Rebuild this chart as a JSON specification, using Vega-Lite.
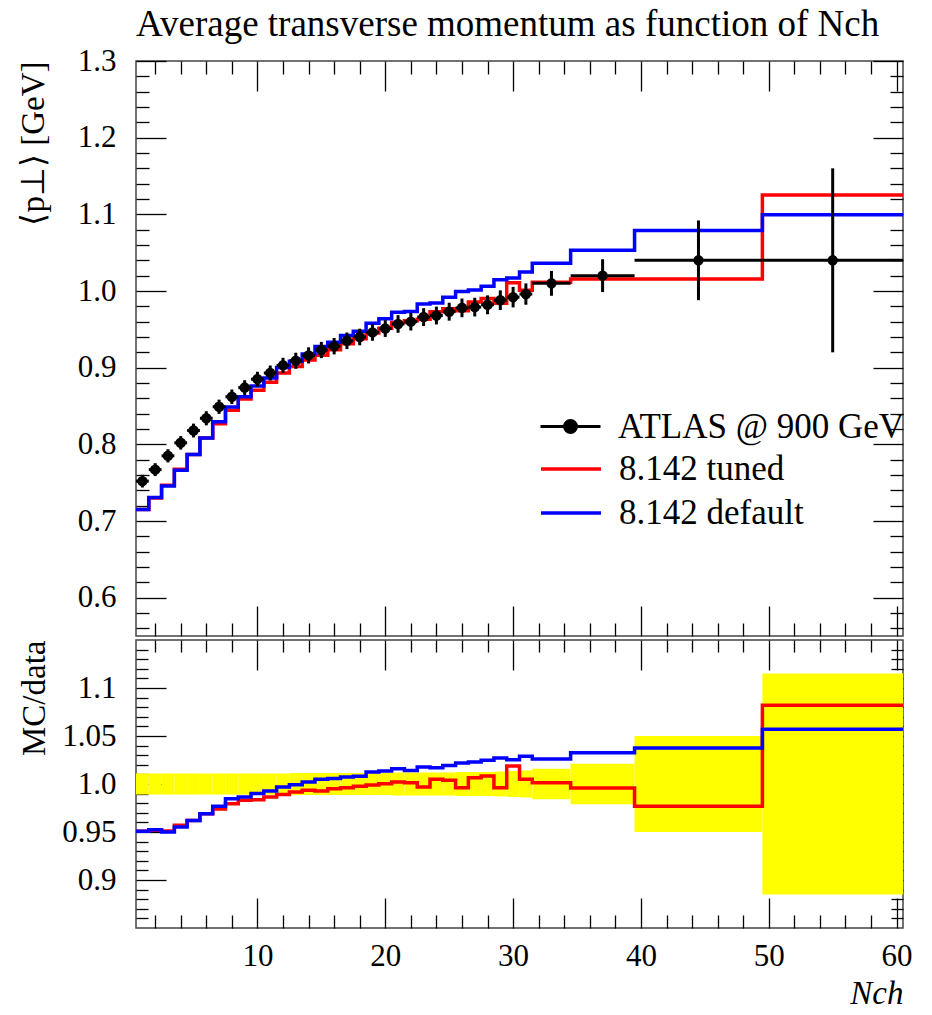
{
  "$schema": "https://vega.github.io/schema/vega-lite/v6.json",
  "padding": {"left": 16, "top": 5, "right": 5, "bottom": 5},
  "background": "white",
  "spacing": 0,
  "config": {
    "font": "Liberation Serif",
    "view": {"stroke": "#444", "strokeWidth": 1.5},
    "axis": {"domain": false, "grid": false, "tickColor": "black", "tickWidth": 1.3, "labelFont": "Liberation Serif", "labelFontSize": 31, "labelColor": "black", "titleFont": "Liberation Serif", "titleFontSize": 33, "titleFontWeight": "normal", "titleColor": "black"},
    "legend": {"labelFont": "Liberation Serif", "labelFontSize": 35, "labelColor": "black", "padding": 0, "labelLimit": 0, "titlePadding": 0}
  },
  "datasets": {
    "mc": [
      {"x": 0.5, "tuned": 0.7149, "def": 0.7149, "rt": 0.9507, "rd": 0.9507},
      {"x": 1.5, "tuned": 0.7300, "def": 0.7305, "rt": 0.9517, "rd": 0.9524},
      {"x": 2.5, "tuned": 0.7465, "def": 0.7458, "rt": 0.951, "rd": 0.950},
      {"x": 3.5, "tuned": 0.7675, "def": 0.7661, "rt": 0.957, "rd": 0.9552},
      {"x": 4.5, "tuned": 0.7869, "def": 0.7869, "rt": 0.962, "rd": 0.962},
      {"x": 5.5, "tuned": 0.8081, "def": 0.8081, "rt": 0.969, "rd": 0.969},
      {"x": 6.5, "tuned": 0.8269, "def": 0.8293, "rt": 0.974, "rd": 0.9768},
      {"x": 7.5, "tuned": 0.8443, "def": 0.8488, "rt": 0.9795, "rd": 0.9847},
      {"x": 8.5, "tuned": 0.8591, "def": 0.8622, "rt": 0.983, "rd": 0.9865},
      {"x": 9.5, "tuned": 0.8706, "def": 0.8762, "rt": 0.9837, "rd": 0.990},
      {"x": 10.5, "tuned": 0.8809, "def": 0.8865, "rt": 0.9865, "rd": 0.9927},
      {"x": 11.5, "tuned": 0.8931, "def": 0.9002, "rt": 0.989, "rd": 0.9969},
      {"x": 12.5, "tuned": 0.9015, "def": 0.9084, "rt": 0.9917, "rd": 0.9993},
      {"x": 13.5, "tuned": 0.9100, "def": 0.9178, "rt": 0.9934, "rd": 1.002},
      {"x": 14.5, "tuned": 0.9163, "def": 0.9276, "rt": 0.9927, "rd": 1.005},
      {"x": 15.5, "tuned": 0.9234, "def": 0.9332, "rt": 0.995, "rd": 1.0056},
      {"x": 16.5, "tuned": 0.9313, "def": 0.9418, "rt": 0.996, "rd": 1.0073},
      {"x": 17.5, "tuned": 0.9377, "def": 0.9475, "rt": 0.9976, "rd": 1.008},
      {"x": 18.5, "tuned": 0.9451, "def": 0.9578, "rt": 0.999, "rd": 1.0125},
      {"x": 19.5, "tuned": 0.9513, "def": 0.9638, "rt": 1.0003, "rd": 1.0135},
      {"x": 20.5, "tuned": 0.9589, "def": 0.9723, "rt": 1.002, "rd": 1.016},
      {"x": 21.5, "tuned": 0.9613, "def": 0.9734, "rt": 1.0014, "rd": 1.014},
      {"x": 22.5, "tuned": 0.9630, "def": 0.9831, "rt": 0.9969, "rd": 1.0177},
      {"x": 23.5, "tuned": 0.9728, "def": 0.9845, "rt": 1.005, "rd": 1.017},
      {"x": 24.5, "tuned": 0.9767, "def": 0.9919, "rt": 1.0038, "rd": 1.0194},
      {"x": 25.5, "tuned": 0.9741, "def": 0.9995, "rt": 0.996, "rd": 1.022},
      {"x": 26.5, "tuned": 0.9855, "def": 1.0014, "rt": 1.0066, "rd": 1.0229},
      {"x": 27.5, "tuned": 0.9902, "def": 1.0063, "rt": 1.0083, "rd": 1.0247},
      {"x": 28.5, "tuned": 0.9840, "def": 1.0147, "rt": 0.996, "rd": 1.027},
      {"x": 29.5, "tuned": 1.0106, "def": 1.0171, "rt": 1.0188, "rd": 1.0253},
      {"x": 30.5, "tuned": 1.0010, "def": 1.0247, "rt": 1.005, "rd": 1.0288},
      {"x": 31.5, "tuned": 1.0114, "def": 1.0363, "rt": 1.0014, "rd": 1.026},
      {"x": 34.5, "tuned": 1.0157, "def": 1.0533, "rt": 0.9958, "rd": 1.0326},
      {"x": 39.5, "tuned": 1.0158, "def": 1.0790, "rt": 0.9767, "rd": 1.0375},
      {"x": 49.5, "tuned": 1.1253, "def": 1.0993, "rt": 1.082, "rd": 1.057},
      {"x": 60.5, "tuned": 1.1253, "def": 1.0993, "rt": 1.082, "rd": 1.057}
    ],
    "atlas": [
      {"n": 1, "lo": 0.5, "hi": 1.5, "val": 0.752, "ylo": 0.7437, "yhi": 0.7603, "rlo": 0.989, "rhi": 1.011},
      {"n": 2, "lo": 1.5, "hi": 2.5, "val": 0.767, "ylo": 0.7586, "yhi": 0.7754, "rlo": 0.989, "rhi": 1.011},
      {"n": 3, "lo": 2.5, "hi": 3.5, "val": 0.785, "ylo": 0.7764, "yhi": 0.7936, "rlo": 0.989, "rhi": 1.011},
      {"n": 4, "lo": 3.5, "hi": 4.5, "val": 0.802, "ylo": 0.7932, "yhi": 0.8108, "rlo": 0.989, "rhi": 1.011},
      {"n": 5, "lo": 4.5, "hi": 5.5, "val": 0.818, "ylo": 0.8090, "yhi": 0.8270, "rlo": 0.989, "rhi": 1.011},
      {"n": 6, "lo": 5.5, "hi": 6.5, "val": 0.834, "ylo": 0.8248, "yhi": 0.8432, "rlo": 0.989, "rhi": 1.011},
      {"n": 7, "lo": 6.5, "hi": 7.5, "val": 0.849, "ylo": 0.8397, "yhi": 0.8583, "rlo": 0.989, "rhi": 1.011},
      {"n": 8, "lo": 7.5, "hi": 8.5, "val": 0.862, "ylo": 0.8525, "yhi": 0.8715, "rlo": 0.989, "rhi": 1.011},
      {"n": 9, "lo": 8.5, "hi": 9.5, "val": 0.874, "ylo": 0.8644, "yhi": 0.8836, "rlo": 0.989, "rhi": 1.011},
      {"n": 10, "lo": 9.5, "hi": 10.5, "val": 0.885, "ylo": 0.8753, "yhi": 0.8947, "rlo": 0.989, "rhi": 1.011},
      {"n": 11, "lo": 10.5, "hi": 11.5, "val": 0.893, "ylo": 0.8832, "yhi": 0.9028, "rlo": 0.989, "rhi": 1.011},
      {"n": 12, "lo": 11.5, "hi": 12.5, "val": 0.903, "ylo": 0.8931, "yhi": 0.9129, "rlo": 0.989, "rhi": 1.011},
      {"n": 13, "lo": 12.5, "hi": 13.5, "val": 0.909, "ylo": 0.8985, "yhi": 0.9195, "rlo": 0.9885, "rhi": 1.0115},
      {"n": 14, "lo": 13.5, "hi": 14.5, "val": 0.916, "ylo": 0.9055, "yhi": 0.9265, "rlo": 0.9885, "rhi": 1.0115},
      {"n": 15, "lo": 14.5, "hi": 15.5, "val": 0.923, "ylo": 0.9124, "yhi": 0.9336, "rlo": 0.9885, "rhi": 1.0115},
      {"n": 16, "lo": 15.5, "hi": 16.5, "val": 0.928, "ylo": 0.9173, "yhi": 0.9387, "rlo": 0.9885, "rhi": 1.0115},
      {"n": 17, "lo": 16.5, "hi": 17.5, "val": 0.935, "ylo": 0.9242, "yhi": 0.9458, "rlo": 0.9885, "rhi": 1.0115},
      {"n": 18, "lo": 17.5, "hi": 18.5, "val": 0.940, "ylo": 0.9292, "yhi": 0.9508, "rlo": 0.9885, "rhi": 1.0115},
      {"n": 19, "lo": 18.5, "hi": 19.5, "val": 0.946, "ylo": 0.9351, "yhi": 0.9569, "rlo": 0.9885, "rhi": 1.0115},
      {"n": 20, "lo": 19.5, "hi": 20.5, "val": 0.951, "ylo": 0.9401, "yhi": 0.9619, "rlo": 0.9885, "rhi": 1.0115},
      {"n": 21, "lo": 20.5, "hi": 21.5, "val": 0.957, "ylo": 0.9455, "yhi": 0.9685, "rlo": 0.988, "rhi": 1.012},
      {"n": 22, "lo": 21.5, "hi": 22.5, "val": 0.960, "ylo": 0.9485, "yhi": 0.9715, "rlo": 0.988, "rhi": 1.012},
      {"n": 23, "lo": 22.5, "hi": 23.5, "val": 0.966, "ylo": 0.9544, "yhi": 0.9776, "rlo": 0.988, "rhi": 1.012},
      {"n": 24, "lo": 23.5, "hi": 24.5, "val": 0.968, "ylo": 0.9564, "yhi": 0.9796, "rlo": 0.988, "rhi": 1.012},
      {"n": 25, "lo": 24.5, "hi": 25.5, "val": 0.973, "ylo": 0.9613, "yhi": 0.9847, "rlo": 0.988, "rhi": 1.012},
      {"n": 26, "lo": 25.5, "hi": 26.5, "val": 0.978, "ylo": 0.9658, "yhi": 0.9902, "rlo": 0.9875, "rhi": 1.0125},
      {"n": 27, "lo": 26.5, "hi": 27.5, "val": 0.979, "ylo": 0.9668, "yhi": 0.9912, "rlo": 0.9875, "rhi": 1.0125},
      {"n": 28, "lo": 27.5, "hi": 28.5, "val": 0.982, "ylo": 0.9697, "yhi": 0.9943, "rlo": 0.9875, "rhi": 1.0125},
      {"n": 29, "lo": 28.5, "hi": 29.5, "val": 0.988, "ylo": 0.9752, "yhi": 1.0008, "rlo": 0.987, "rhi": 1.013},
      {"n": 30, "lo": 29.5, "hi": 30.5, "val": 0.992, "ylo": 0.9786, "yhi": 1.0054, "rlo": 0.9865, "rhi": 1.0135},
      {"n": 31, "lo": 30.5, "hi": 31.5, "val": 0.996, "ylo": 0.9821, "yhi": 1.0099, "rlo": 0.986, "rhi": 1.014},
      {"n": 33, "lo": 31.5, "hi": 34.5, "val": 1.010, "ylo": 0.9938, "yhi": 1.0262, "rlo": 0.984, "rhi": 1.016},
      {"n": 37, "lo": 34.5, "hi": 39.5, "val": 1.020, "ylo": 0.9986, "yhi": 1.0414, "rlo": 0.979, "rhi": 1.021},
      {"n": 44.5, "lo": 39.5, "hi": 49.5, "val": 1.040, "ylo": 0.988, "yhi": 1.092, "rlo": 0.95, "rhi": 1.05},
      {"n": 55, "lo": 49.5, "hi": 60.5, "val": 1.040, "ylo": 0.920, "yhi": 1.160, "rlo": 0.885, "rhi": 1.115}
    ]
  },
  "resolve": {"scale": {"x": "independent", "stroke": "independent", "color": "independent", "fill": "independent"}},
  "vconcat": [
    {
      "width": 767,
      "height": 575,
      "title": {"text": "Average transverse momentum as function of Nch", "anchor": "start", "frame": "group", "font": "Liberation Serif", "fontSize": 37, "fontWeight": "normal", "color": "black", "offset": 1},
      "resolve": {"axis": {"x": "independent", "y": "independent"}},
      "layer": [
        {
          "data": {"name": "mc"},
          "mark": {"type": "line", "interpolate": "step-after", "strokeWidth": 3.5},
          "encoding": {
            "x": {"field": "x", "type": "quantitative", "scale": {"domain": [0.5, 60.5], "nice": false, "zero": false},
              "axis": {"orient": "bottom", "values": [2,4,6,8,10,12,14,16,18,20,22,24,26,28,30,32,34,36,38,40,42,44,46,48,50,52,54,56,58,60], "tickSize": {"condition": {"test": "datum.value % 10 === 0", "value": -30}, "value": -13}, "labels": false, "title": null}},
            "y": {"field": "tuned", "type": "quantitative", "scale": {"domain": [0.55, 1.3], "nice": false, "zero": false},
              "axis": {"orient": "left", "values": [0.56,0.58,0.6,0.62,0.64,0.66,0.68,0.7,0.72,0.74,0.76,0.78,0.8,0.82,0.84,0.86,0.88,0.9,0.92,0.94,0.96,0.98,1.0,1.02,1.04,1.06,1.08,1.1,1.12,1.14,1.16,1.18,1.2,1.22,1.24,1.26,1.28,1.3],
                "tickSize": {"condition": {"test": "abs(datum.value*10 - round(datum.value*10)) < 0.001", "value": -30}, "value": -13},
                "labelExpr": "abs(datum.value*10 - round(datum.value*10)) < 0.001 ? format(datum.value, '.1f') : ''",
                "labelPadding": 50, "title": "⟨p⊥⟩ [GeV]", "titleAnchor": "end", "titlePadding": 27}},
            "stroke": {"datum": "8.142 tuned", "type": "nominal", "scale": {"range": ["#ff0000"]},
              "legend": {"orient": "none", "legendX": 403, "legendY": 376, "title": null, "symbolType": "stroke", "symbolSize": 3600, "symbolStrokeWidth": 3.5, "labelOffset": 16}}
          }
        },
        {
          "data": {"name": "mc"},
          "mark": {"type": "line", "interpolate": "step-after", "strokeWidth": 3.5},
          "encoding": {
            "x": {"field": "x", "type": "quantitative", "scale": {"domain": [0.5, 60.5], "nice": false, "zero": false},
              "axis": {"orient": "top", "values": [2,4,6,8,10,12,14,16,18,20,22,24,26,28,30,32,34,36,38,40,42,44,46,48,50,52,54,56,58,60], "tickSize": {"condition": {"test": "datum.value % 10 === 0", "value": -30}, "value": -13}, "labels": false, "title": null}},
            "y": {"field": "def", "type": "quantitative", "scale": {"domain": [0.55, 1.3], "nice": false, "zero": false},
              "axis": {"orient": "right", "values": [0.56,0.58,0.6,0.62,0.64,0.66,0.68,0.7,0.72,0.74,0.76,0.78,0.8,0.82,0.84,0.86,0.88,0.9,0.92,0.94,0.96,0.98,1.0,1.02,1.04,1.06,1.08,1.1,1.12,1.14,1.16,1.18,1.2,1.22,1.24,1.26,1.28,1.3],
                "tickSize": {"condition": {"test": "abs(datum.value*10 - round(datum.value*10)) < 0.001", "value": -30}, "value": -13},
                "labels": false, "title": null}},
            "color": {"datum": "8.142 default", "type": "nominal", "scale": {"range": ["#0000ff"]},
              "legend": {"orient": "none", "legendX": 403, "legendY": 420, "title": null, "symbolType": "stroke", "symbolSize": 3600, "symbolStrokeWidth": 3.5, "labelOffset": 16}}
          }
        },
        {
          "data": {"name": "atlas"},
          "mark": {"type": "rule", "color": "black", "strokeWidth": 3},
          "encoding": {
            "x": {"field": "n", "type": "quantitative", "axis": null},
            "y": {"field": "ylo", "type": "quantitative", "axis": null},
            "y2": {"field": "yhi"}
          }
        },
        {
          "data": {"name": "atlas"},
          "mark": {"type": "rule", "color": "black", "strokeWidth": 3},
          "encoding": {
            "x": {"field": "lo", "type": "quantitative", "axis": null},
            "x2": {"field": "hi"},
            "y": {"field": "val", "type": "quantitative", "axis": null}
          }
        },
        {
          "data": {"name": "atlas"},
          "mark": {"type": "point", "filled": true, "size": 110, "opacity": 1},
          "encoding": {
            "x": {"field": "n", "type": "quantitative", "axis": null},
            "y": {"field": "val", "type": "quantitative", "axis": null},
            "fill": {"datum": "ATLAS @ 900 GeV", "type": "nominal", "scale": {"range": ["#000000"]},
              "legend": {"orient": "none", "legendX": 403, "legendY": 334, "title": null, "symbolType": "M-1,0L1,0M0.2,0A0.2,0.2,0,1,1,-0.2,0A0.2,0.2,0,1,1,0.2,0Z", "symbolSize": 3600, "symbolStrokeColor": "#000000", "symbolStrokeWidth": 3, "symbolFillColor": "#000000", "labelOffset": 16}}
          }
        }
      ]
    },
    {
      "width": 767,
      "height": 288,
      "resolve": {"axis": {"x": "independent", "y": "independent"}},
      "layer": [
        {
          "data": {"name": "atlas"},
          "mark": {"type": "rect", "color": "#ffff00", "opacity": 1},
          "encoding": {
            "x": {"field": "lo", "type": "quantitative", "scale": {"domain": [0.5, 60.5], "nice": false, "zero": false},
              "axis": {"orient": "bottom", "values": [2,4,6,8,10,12,14,16,18,20,22,24,26,28,30,32,34,36,38,40,42,44,46,48,50,52,54,56,58,60], "tickSize": {"condition": {"test": "datum.value % 10 === 0", "value": -30}, "value": -13},
                "labelExpr": "datum.value % 10 === 0 ? datum.label : ''", "labelPadding": 43, "title": "Nch", "titleAnchor": "end", "titlePadding": 6, "titleFontStyle": "italic"}},
            "x2": {"field": "hi"},
            "y": {"field": "rlo", "type": "quantitative", "scale": {"domain": [0.85, 1.15], "nice": false, "zero": false},
              "axis": {"orient": "left", "values": [0.86,0.87,0.88,0.89,0.9,0.91,0.92,0.93,0.94,0.95,0.96,0.97,0.98,0.99,1.0,1.01,1.02,1.03,1.04,1.05,1.06,1.07,1.08,1.09,1.1,1.11,1.12,1.13,1.14],
                "tickSize": {"condition": {"test": "abs(datum.value*20 - round(datum.value*20)) < 0.001", "value": -30}, "value": -12},
                "labelExpr": "abs(datum.value*20 - round(datum.value*20)) < 0.001 ? (abs(datum.value*10 - round(datum.value*10)) < 0.001 ? format(datum.value, '.1f') : format(datum.value, '.2f')) : ''",
                "labelPadding": 50, "title": "MC/data", "titleAnchor": "end", "titlePadding": 10}},
            "y2": {"field": "rhi"}
          }
        },
        {
          "mark": {"type": "rule", "color": "#222222", "strokeWidth": 1.2},
          "encoding": {"y": {"datum": 1, "type": "quantitative", "axis": null}}
        },
        {
          "data": {"name": "mc"},
          "mark": {"type": "line", "interpolate": "step-after", "strokeWidth": 3.5, "color": "#ff0000"},
          "encoding": {
            "x": {"field": "x", "type": "quantitative",
              "axis": {"orient": "top", "values": [2,4,6,8,10,12,14,16,18,20,22,24,26,28,30,32,34,36,38,40,42,44,46,48,50,52,54,56,58,60], "tickSize": {"condition": {"test": "datum.value % 10 === 0", "value": -30}, "value": -12}, "labels": false, "title": null}},
            "y": {"field": "rt", "type": "quantitative",
              "axis": {"orient": "right", "values": [0.86,0.87,0.88,0.89,0.9,0.91,0.92,0.93,0.94,0.95,0.96,0.97,0.98,0.99,1.0,1.01,1.02,1.03,1.04,1.05,1.06,1.07,1.08,1.09,1.1,1.11,1.12,1.13,1.14],
                "tickSize": {"condition": {"test": "abs(datum.value*20 - round(datum.value*20)) < 0.001", "value": -30}, "value": -12}, "labels": false, "title": null}}
          }
        },
        {
          "data": {"name": "mc"},
          "mark": {"type": "line", "interpolate": "step-after", "strokeWidth": 3.5, "color": "#0000ff"},
          "encoding": {
            "x": {"field": "x", "type": "quantitative", "axis": null},
            "y": {"field": "rd", "type": "quantitative", "axis": null}
          }
        }
      ]
    }
  ]
}
